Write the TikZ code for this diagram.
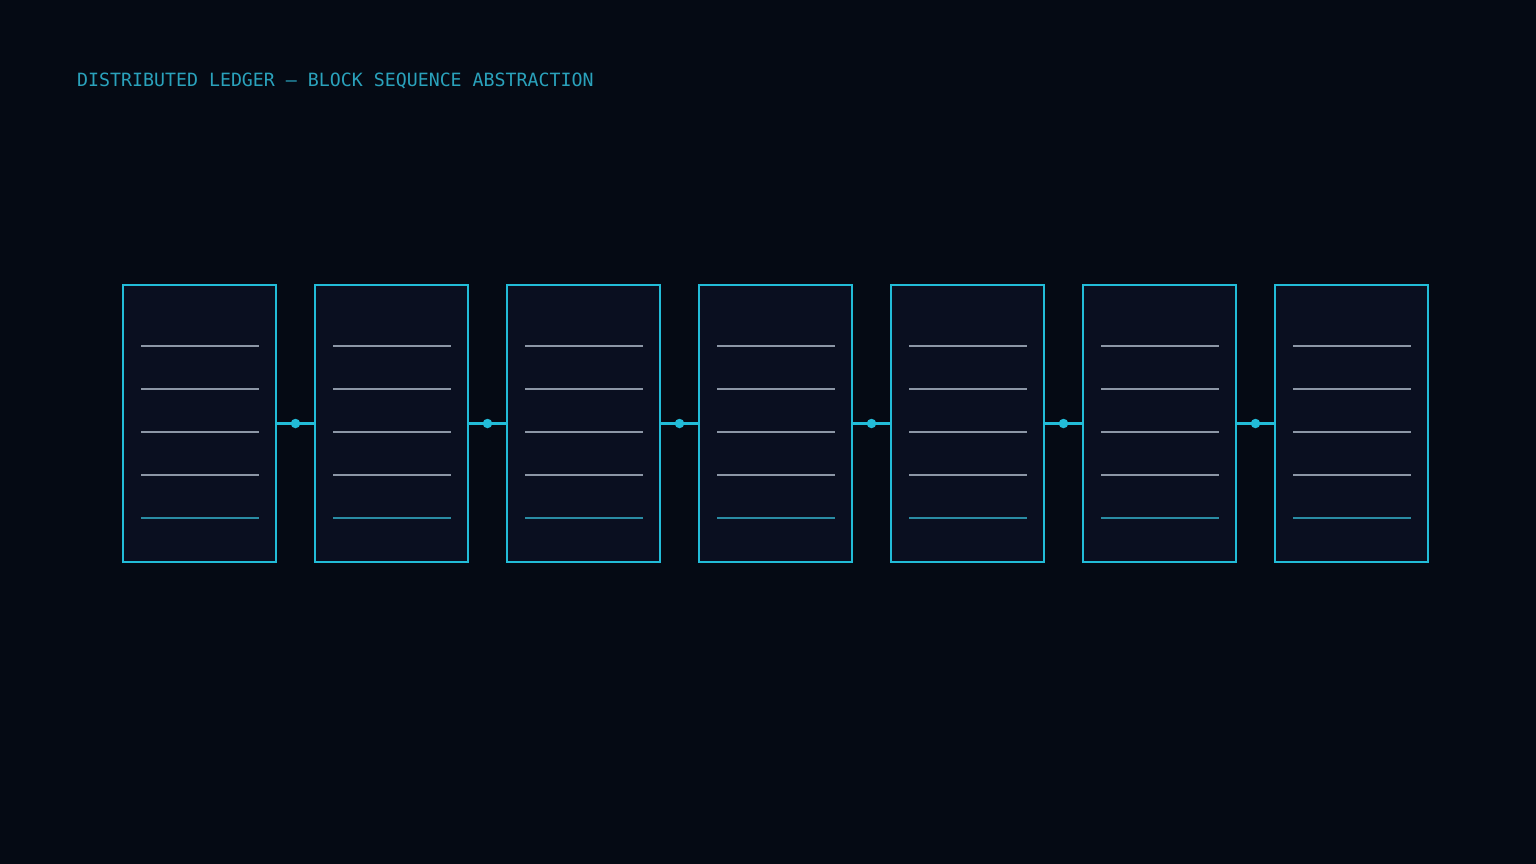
\documentclass[tikz,border=0pt]{standalone}
\usepackage{fontspec}
\setmonofont{DejaVu Sans Mono}
\usetikzlibrary{calc}
\definecolor{bgc}{HTML}{050A14}
\definecolor{boxfill}{HTML}{0A0F20}
\definecolor{cyanc}{HTML}{22BCD8}
\definecolor{titlec}{HTML}{2AA2BC}
\definecolor{grayline}{HTML}{8C96A6}
\definecolor{tealline}{HTML}{2A8CA4}
\begin{document}
\begin{tikzpicture}[x=1pt,y=-1pt,
  blockbox/.style={draw=cyanc, fill=boxfill, line width=2pt, minimum width=153pt, minimum height=277pt, inner sep=0pt, outer sep=0pt},
  rowline/.style={draw=grayline, line width=1.1pt},
  lastline/.style={draw=tealline, line width=1.1pt},
  link/.style={draw=cyanc, line width=2.6pt},
  linkdot/.style={circle, fill=cyanc, minimum size=9.5pt, inner sep=0pt}]
\fill[bgc] (0,0) rectangle (1536,864);
\useasboundingbox (0,0) rectangle (1536,864);
\node[anchor=base west, text=titlec, font=\ttfamily\fontsize{18.25pt}{20pt}\selectfont, inner sep=0pt] (title) at (77,86.5) {DISTRIBUTED LEDGER — BLOCK SEQUENCE ABSTRACTION};
\foreach \i in {0,...,6} {
  \node[blockbox] (b\i) at ({199.5+192*\i},423.5) {};
  \foreach \k in {0,...,3} {
    \draw[rowline] ([xshift=18pt,yshift={-(61+43*\k)*1pt}]b\i.north west) -- ([xshift=-17pt,yshift={-(61+43*\k)*1pt}]b\i.north east);
  }
  \draw[lastline] ([xshift=18pt,yshift=-233pt]b\i.north west) -- ([xshift=-17pt,yshift=-233pt]b\i.north east);
}
\foreach \i [evaluate=\i as \j using int(\i+1)] in {0,...,5} {
  \draw[link] (b\i.east) -- (b\j.west);
  \node[linkdot] (d\i) at ($(b\i.east)!0.5!(b\j.west)$) {};
}
\end{tikzpicture}
\end{document}
